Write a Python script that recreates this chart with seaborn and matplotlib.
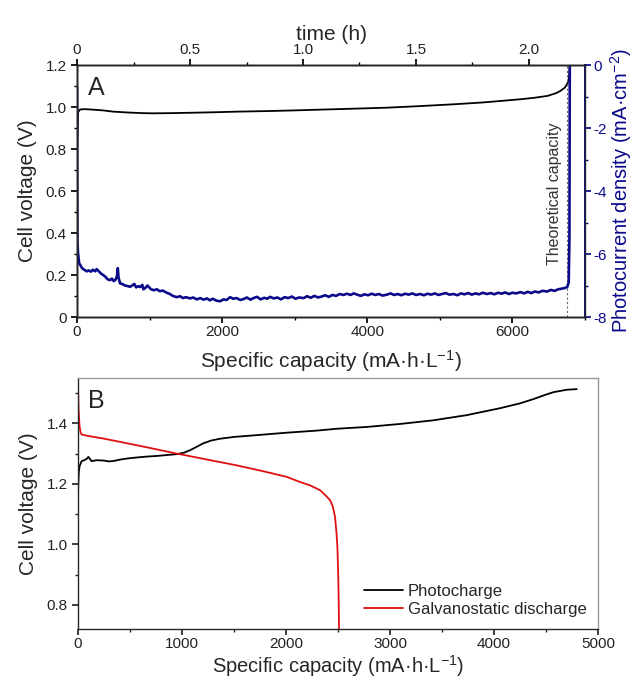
import numpy as np
import pandas as pd
import seaborn as sns
import matplotlib.pyplot as plt
from matplotlib.ticker import MultipleLocator

# ---- data ----
# panel A: cell voltage vs specific capacity (photocharge)
a_volt_cap = [0, 15, 40, 100, 200, 359, 500, 700, 900, 1048, 1300, 1600, 1876, 2200, 2662, 3000,
              3393, 3800, 4276, 4700, 5186, 5600, 6110, 6300, 6483, 6600, 6662, 6720, 6759, 6780, 6790]
a_volt = [0.80, 0.975, 0.988, 0.990, 0.988, 0.984, 0.978, 0.974, 0.971, 0.970, 0.971, 0.973, 0.975,
          0.978, 0.981, 0.984, 0.988, 0.992, 0.997, 1.004, 1.013, 1.022, 1.037, 1.044, 1.053, 1.066,
          1.077, 1.092, 1.113, 1.140, 1.200]

# panel A: photocurrent density (right axis)
a_curr_cap = [0, 5, 15, 30, 45, 70, 100, 133, 160, 190, 220, 250, 271, 300, 330, 362, 390, 420, 455,
              480, 505, 530, 550, 562, 572, 593, 620, 660, 700, 731, 760, 790, 815, 846, 870, 900, 915,
              940, 970, 990, 1020, 1060, 1100, 1140, 1180, 1237, 1280, 1320, 1375, 1420, 1460, 1500,
              1559, 1600, 1650, 1700, 1743, 1790, 1830, 1870, 1920, 1972, 2020, 2060, 2110, 2150, 2200,
              2250, 2294, 2340, 2390, 2430, 2480, 2530, 2580, 2620, 2662, 2710, 2760, 2810, 2860, 2910,
              2960, 3010, 3060, 3122, 3170, 3220, 3270, 3320, 3370, 3420, 3470, 3520, 3570, 3620, 3670,
              3720, 3770, 3812, 3860, 3910, 3960, 4010, 4060, 4110, 4160, 4210, 4271, 4320, 4370, 4420,
              4470, 4520, 4570, 4620, 4670, 4731, 4780, 4830, 4880, 4930, 4980, 5030, 5080, 5130, 5191,
              5240, 5290, 5340, 5390, 5440, 5490, 5540, 5590, 5650, 5700, 5750, 5800, 5850, 5900, 5950,
              6000, 6050, 6110, 6160, 6210, 6260, 6310, 6360, 6410, 6478, 6530, 6580, 6630, 6680, 6720,
              6754, 6775, 6785, 6790]
a_curr = [-0.70, -5.60, -6.00, -6.30, -6.35, -6.45, -6.50, -6.55, -6.52, -6.56, -6.50, -6.55, -6.48,
          -6.55, -6.62, -6.67, -6.72, -6.80, -6.83, -6.78, -6.86, -6.82, -6.70, -6.45, -6.75, -6.93,
          -6.95, -7.00, -7.02, -7.04, -7.00, -6.95, -7.06, -7.02, -7.05, -6.98, -7.12, -7.08, -7.00,
          -7.05, -7.12, -7.15, -7.12, -7.18, -7.16, -7.23, -7.27, -7.33, -7.37, -7.34, -7.40, -7.37,
          -7.41, -7.38, -7.44, -7.40, -7.45, -7.41, -7.47, -7.42, -7.48, -7.50, -7.44, -7.46, -7.37,
          -7.42, -7.40, -7.46, -7.43, -7.38, -7.45, -7.40, -7.36, -7.44, -7.39, -7.42, -7.36, -7.41,
          -7.38, -7.44, -7.37, -7.40, -7.35, -7.42, -7.38, -7.40, -7.34, -7.39, -7.33, -7.38, -7.35,
          -7.31, -7.36, -7.30, -7.33, -7.27, -7.30, -7.26, -7.30, -7.25, -7.29, -7.33, -7.28, -7.31,
          -7.26, -7.30, -7.27, -7.32, -7.29, -7.25, -7.30, -7.27, -7.31, -7.26, -7.29, -7.25, -7.30,
          -7.27, -7.31, -7.26, -7.29, -7.25, -7.30, -7.27, -7.24, -7.29, -7.27, -7.31, -7.25, -7.28,
          -7.24, -7.29, -7.25, -7.28, -7.23, -7.27, -7.24, -7.28, -7.23, -7.26, -7.22, -7.27, -7.23,
          -7.25, -7.21, -7.25, -7.20, -7.24, -7.19, -7.22, -7.17, -7.19, -7.14, -7.17, -7.12, -7.10,
          -7.08, -7.05, -6.90, -5.50, 0.00]

theoretical_cap = 6745
time_max = 2.248  # hours at the right edge (7000 mA·h·L-1)

# panel B
b_charge_cap = [0, 3, 8, 15, 35, 60, 85, 100, 115, 131, 180, 244, 300, 350, 404, 480, 564, 660, 756,
                850, 949, 1020, 1077, 1140, 1205, 1280, 1365, 1500, 1686, 2006, 2300, 2487, 2776, 3100,
                3417, 3737, 4058, 4250, 4378, 4500, 4571, 4699, 4795]
b_charge_v = [1.156, 1.200, 1.240, 1.258, 1.275, 1.278, 1.283, 1.289, 1.282, 1.275, 1.278, 1.277,
              1.274, 1.276, 1.280, 1.284, 1.287, 1.290, 1.292, 1.295, 1.298, 1.303, 1.311, 1.322,
              1.334, 1.343, 1.349, 1.355, 1.360, 1.369, 1.376, 1.382, 1.388, 1.398, 1.410, 1.427,
              1.450, 1.466, 1.480, 1.495, 1.503, 1.511, 1.513]
b_dis_cap = [0, 5, 15, 25, 35, 100, 240, 500, 700, 949, 1200, 1526, 1800, 2006, 2135, 2230, 2327,
             2391, 2423, 2450, 2471, 2485, 2494, 2502, 2506, 2510]
b_dis_v = [1.530, 1.450, 1.390, 1.370, 1.363, 1.358, 1.350, 1.332, 1.318, 1.300, 1.283, 1.261, 1.240,
           1.223, 1.206, 1.195, 1.179, 1.158, 1.146, 1.125, 1.091, 1.040, 0.992, 0.900, 0.827, 0.720]

sns.set_theme(style="ticks")
plt.rcParams["font.family"] = ["Liberation Sans", "DejaVu Sans"]
plt.rcParams["mathtext.default"] = "regular"
plt.rcParams["axes.unicode_minus"] = False
plt.rcParams["xtick.major.size"] = 4
plt.rcParams["ytick.major.size"] = 4
plt.rcParams["xtick.minor.size"] = 2.5
plt.rcParams["ytick.minor.size"] = 2.5
plt.rcParams["axes.linewidth"] = 1.0

navy = "#0a0a8a"
txt = "#222222"
lab_fs = 15
tick_fs = 11


def fmt(v, p):
    return "0" if abs(v) < 1e-9 else f"{v:.1f}"


fig = plt.figure(figsize=(6.35, 6.81), dpi=100)

# ---------------- panel A ----------------
axA = fig.add_axes([0.1213, 0.5345, 0.80, 0.370])
axR = axA.twinx()
axT = axA.twiny()

sns.lineplot(x=a_volt_cap, y=a_volt, ax=axA, color="black", lw=1.3, sort=False, estimator=None)
sns.lineplot(x=a_curr_cap, y=a_curr, ax=axR, color=navy, lw=1.9, sort=False, estimator=None)
axA.axvline(theoretical_cap, color="#666666", lw=0.8, ls=(0, (2, 2)))
axA.text(theoretical_cap - 170, 0.585, "Theoretical capacity", rotation=90, ha="center",
         va="center", fontsize=11.5, color="#333333")
axA.text(0.022, 0.955, "A", transform=axA.transAxes, fontsize=18, va="top", ha="left")

axA.set_xlim(0, 7000)
axA.set_ylim(0, 1.2)
axR.set_ylim(-8, 0)
axT.set_xlim(0, time_max)

axA.xaxis.set_major_locator(MultipleLocator(2000))
axA.xaxis.set_minor_locator(MultipleLocator(1000))
axA.yaxis.set_major_locator(MultipleLocator(0.2))
axA.yaxis.set_minor_locator(MultipleLocator(0.1))
axA.yaxis.set_major_formatter(plt.FuncFormatter(fmt))
axR.yaxis.set_major_locator(MultipleLocator(2))
axR.yaxis.set_minor_locator(MultipleLocator(1))
axT.xaxis.set_major_locator(MultipleLocator(0.5))
axT.xaxis.set_minor_locator(MultipleLocator(0.25))
axT.xaxis.set_major_formatter(plt.FuncFormatter(fmt))

axA.set_xlabel("Specific capacity (mA·h·L$^{-1}$)", fontsize=lab_fs, labelpad=6)
axA.set_ylabel("Cell voltage (V)", fontsize=lab_fs, labelpad=6)
axT.set_xlabel("time (h)", fontsize=lab_fs, labelpad=2)
axR.set_ylabel("Photocurrent density (mA·cm$^{-2}$)", fontsize=14.5, color=navy, labelpad=1)

for ax in (axA, axT):
    ax.tick_params(which="both", direction="out", labelsize=tick_fs, colors="black", labelcolor=txt)
axR.tick_params(which="both", direction="out", labelsize=tick_fs, colors=navy, labelcolor=navy)
axR.tick_params(axis="y", pad=2)
axR.spines["right"].set_color(navy)
axR.spines["right"].set_linewidth(1.4)
axT.tick_params(axis="x", which="both", top=True, labeltop=True, pad=2)
axA.tick_params(axis="x", pad=2)
for ax in (axA, axR, axT):
    ax.spines["top"].set_visible(True)
    ax.spines["right"].set_visible(True)
axA.spines["right"].set_visible(False)

# ---------------- panel B ----------------
axB = fig.add_axes([0.1228, 0.0764, 0.819, 0.3686])
sns.lineplot(x=b_charge_cap, y=b_charge_v, ax=axB, color="black", lw=1.3, sort=False,
             estimator=None, label="Photocharge")
sns.lineplot(x=b_dis_cap, y=b_dis_v, ax=axB, color="#e01010", lw=1.3, sort=False,
             estimator=None, label="Galvanostatic discharge")
axB.set_xlim(0, 5000)
axB.set_ylim(0.72, 1.55)
axB.xaxis.set_major_locator(MultipleLocator(1000))
axB.xaxis.set_minor_locator(MultipleLocator(500))
axB.yaxis.set_major_locator(MultipleLocator(0.2))
axB.yaxis.set_minor_locator(MultipleLocator(0.1))
axB.set_xlabel("Specific capacity (mA·h·L$^{-1}$)", fontsize=14.5, labelpad=1)
axB.set_ylabel("Cell voltage (V)", fontsize=lab_fs, labelpad=6)
axB.tick_params(which="both", direction="out", labelsize=tick_fs, labelcolor=txt)
axB.tick_params(axis="x", pad=2)
axB.spines["top"].set_visible(True)
axB.spines["right"].set_visible(True)
axB.spines["top"].set_color("#9a9a9a")
axB.spines["right"].set_color("#9a9a9a")
axB.text(0.02, 0.955, "B", transform=axB.transAxes, fontsize=18, va="top", ha="left")
axB.legend(loc="lower right", frameon=False, fontsize=12, handlelength=2.3, handletextpad=0.3,
           labelspacing=0.2, borderaxespad=0.3)

fig.savefig("out.png", dpi=100)
